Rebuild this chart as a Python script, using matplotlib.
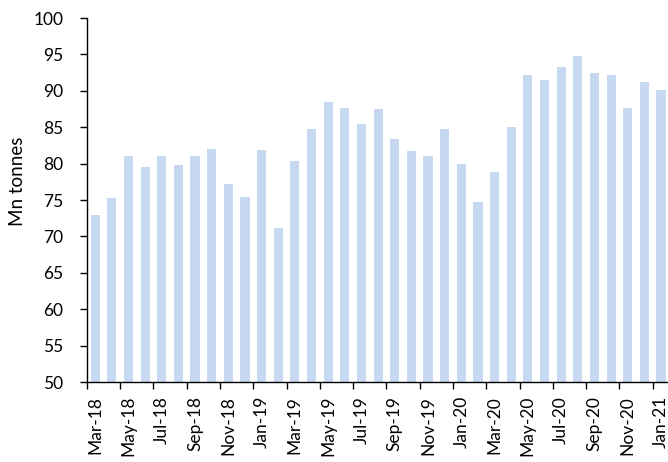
import matplotlib
matplotlib.use("Agg")
import matplotlib.pyplot as plt
import numpy as np

months = ["Mar-18","Apr-18","May-18","Jun-18","Jul-18","Aug-18","Sep-18","Oct-18","Nov-18","Dec-18",
          "Jan-19","Feb-19","Mar-19","Apr-19","May-19","Jun-19","Jul-19","Aug-19","Sep-19","Oct-19",
          "Nov-19","Dec-19","Jan-20","Feb-20","Mar-20","Apr-20","May-20","Jun-20","Jul-20","Aug-20",
          "Sep-20","Oct-20","Nov-20","Dec-20","Jan-21"]
values = [73.0, 75.3, 81.0, 79.5, 81.1, 79.8, 81.0, 82.0, 77.2, 75.4,
          81.9, 71.2, 80.3, 84.8, 88.5, 87.6, 85.5, 87.45, 83.4, 81.7,
          81.1, 84.7, 79.9, 74.7, 78.9, 85.0, 92.2, 91.5, 93.3, 94.8,
          92.5, 92.2, 87.6, 91.2, 90.1]
yticks = [50, 55, 60, 65, 70, 75, 80, 85, 90, 95, 100]

plt.rcParams['font.family'] = ['Lato', 'DejaVu Sans']

fig = plt.figure(figsize=(6.68, 4.62), dpi=100)
ax = fig.add_axes([0.130, 0.173, 0.872, 0.788])

x = np.arange(len(months))
ax.bar(x, values, width=0.55, color="#C6D9F1", zorder=2)

ax.set_ylim(50, 100)
ax.set_yticks(yticks)
ax.set_xlim(-0.5, len(months) - 0.5)

ax.set_xticks(x[::2])
ax.set_xticklabels(months[::2], rotation=90, fontsize=12.5)
ax.set_xticks(np.arange(-0.5, len(months), 2), minor=True)
ax.tick_params(axis='x', which='major', length=0, pad=10)
ax.tick_params(axis='x', which='minor', length=5, width=1, direction='out')
ax.tick_params(axis='y', length=5, width=1, direction='out', labelsize=12.5, pad=12)

for s in ['top', 'right']:
    ax.spines[s].set_visible(False)
for s in ['left', 'bottom']:
    ax.spines[s].set_color('black')
    ax.spines[s].set_linewidth(1)

fig.text(17.5 / 668, 1 - 181 / 462, "Mn tonnes", rotation=90, ha='center', va='center', fontsize=13.5)

fig.savefig("out.png", dpi=100)
